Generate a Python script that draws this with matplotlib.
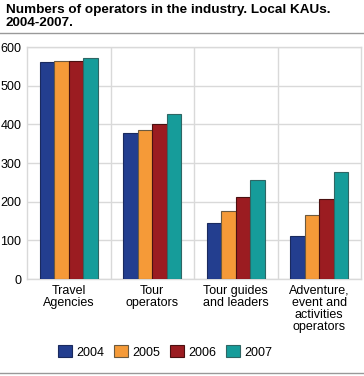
import matplotlib
matplotlib.use("Agg")
import matplotlib.pyplot as plt
import numpy as np
from matplotlib.lines import Line2D

plt.rcParams['font.family'] = ['Liberation Sans', 'DejaVu Sans']

categories = ["Travel\nAgencies", "Tour\noperators", "Tour guides\nand leaders",
              "Adventure,\nevent and\nactivities\noperators"]
years = ["2004", "2005", "2006", "2007"]
v2004 = [561, 378, 146, 112]
v2005 = [563, 385, 176, 166]
v2006 = [565, 401, 211, 206]
v2007 = [571, 426, 255, 276]
yticks = [0, 100, 200, 300, 400, 500, 600]

series = [v2004, v2005, v2006, v2007]
colors = ["#233e8f", "#f59a38", "#9b1c21", "#169c9a"]
edges = ["#1a2a5e", "#6b5a40", "#4a1010", "#2f6664"]

W, H = 364, 376
fig = plt.figure(figsize=(W/100, H/100), dpi=100)
ax = fig.add_axes([27/W, 1-279/H, 334/W, (279-47)/H])

x = np.arange(len(categories))
bw = 0.175
for i, (vals, c, e) in enumerate(zip(series, colors, edges)):
    ax.bar(x + (i-1.5)*bw, vals, bw, color=c, edgecolor=e, linewidth=0.8,
           label=years[i], zorder=3)

ax.set_xlim(-0.5, len(categories)-0.5)
ax.set_ylim(0, 600)
ax.set_yticks(yticks)
ax.set_yticklabels([str(t) for t in yticks], fontsize=9)
ax.set_xticks(x)
ax.set_xticklabels(categories, fontsize=9, linespacing=1.0)
ax.tick_params(length=0, pad=4)
ax.tick_params(axis='y', pad=4)
ax.grid(axis='y', color='#d9d9d9', linewidth=1, zorder=0)
for b in np.arange(0.5, len(categories)-0.5, 1):
    ax.axvline(b, color='#d9d9d9', linewidth=1, zorder=0)
for s in ax.spines.values():
    s.set_color('#d9d9d9')
    s.set_linewidth(1)

fig.text(6/W, 1-4/H, "Numbers of operators in the industry. Local KAUs.\n2004-2007.",
         fontsize=9.7, fontweight='bold', va='top', ha='left', linespacing=1.1)
fig.add_artist(Line2D([0, 1], [1-33/H, 1-33/H], color='#999999', linewidth=1))
fig.add_artist(Line2D([0, 1], [1-373/H, 1-373/H], color='#999999', linewidth=1))

handles, labels = ax.get_legend_handles_labels()
fig.legend(handles, labels, loc='center', bbox_to_anchor=(165/W, 1-352/H), ncol=4,
           frameon=False, fontsize=9, handlelength=1.1, handleheight=1.1,
           columnspacing=0.8, handletextpad=0.35, borderpad=0)

fig.savefig("out.png", dpi=100)
